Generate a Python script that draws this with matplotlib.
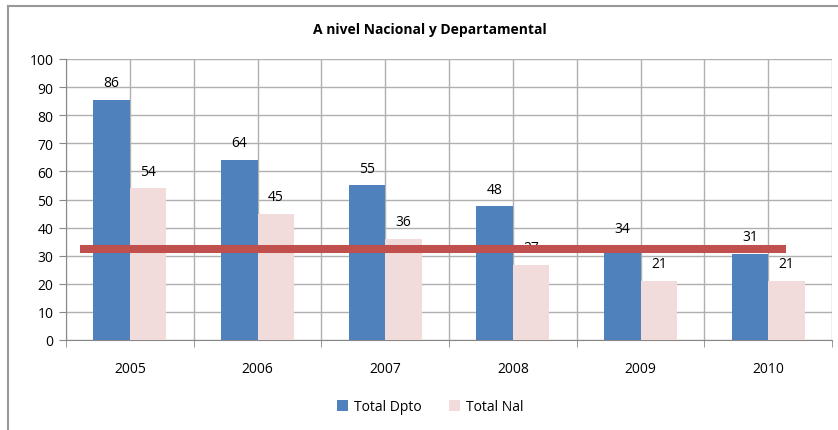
import matplotlib
matplotlib.use("Agg")
import matplotlib.pyplot as plt
import numpy as np
from matplotlib.lines import Line2D

years = ["2005", "2006", "2007", "2008", "2009", "2010"]
total_dpto = [86, 64, 55, 48, 34, 31]
total_nal = [54, 45, 36, 27, 21, 21]
bar_heights_dpto = [85.5, 64, 55, 47.6, 33.5, 30.6]
bar_heights_nal = [54, 45, 36, 26.7, 21, 21]
reference_value = 32.5

plt.rcParams['font.family'] = ['Open Sans', 'DejaVu Sans']

fig = plt.figure(figsize=(8.38, 4.31), dpi=100)
ax = fig.add_axes([66/838, 1-341/431, (832-66)/838, (341-60)/431])

x = np.arange(len(years))
w = 0.287
b1 = ax.bar(x - w/2, bar_heights_dpto, w, color='#4F81BD', label='Total Dpto', zorder=3)
b2 = ax.bar(x + w/2, bar_heights_nal, w, color='#F2DCDB', label='Total Nal', zorder=3)

for xi, h, v in zip(x, bar_heights_dpto, total_dpto):
    ax.annotate(str(v), (xi - w/2, h), xytext=(0, 7), textcoords='offset points',
                ha='center', va='bottom', fontsize=10, color='#000000', zorder=4)
for xi, h, v in zip(x, bar_heights_nal, total_nal):
    ax.annotate(str(v), (xi + w/2, h), xytext=(0, 7), textcoords='offset points',
                ha='center', va='bottom', fontsize=10, color='#000000', zorder=4)

ax.plot([-0.39, 5.14], [reference_value, reference_value], color='#C0504D', lw=5.8,
        solid_capstyle='butt', zorder=5)

ax.set_xlim(-0.5, 5.5)
ax.set_ylim(0, 100)
ax.set_yticks(np.arange(0, 101, 10))
ax.set_xticks(x)
ax.set_xticklabels(years)
ax.set_xticks(np.arange(-0.5, 5.6, 1), minor=True)
ax.tick_params(axis='x', which='major', length=0, pad=15, labelsize=10)
ax.tick_params(axis='x', which='minor', length=5, color='#888888')
ax.tick_params(axis='y', length=5, color='#888888', labelsize=10, pad=4)
ax.grid(True, axis='y', color='#B0B0B0', lw=1, zorder=0)
for xv in np.arange(-0.5, 5.6, 0.5):
    ax.axvline(xv, color='#B0B0B0', lw=1, zorder=0)
for s in ['top', 'right']:
    ax.spines[s].set_visible(False)
ax.spines['left'].set_color('#888888')
ax.spines['bottom'].set_color('#888888')

fig.text(430/838, 1-30/431, 'A nivel Nacional y Departamental', ha='center', va='center',
         fontsize=10, fontweight='bold')

fig.legend(handles=[b1, b2], loc='center', bbox_to_anchor=(430/838, 1-408/431), ncol=2,
           frameon=False, fontsize=10, handlelength=0.8, handleheight=0.8, columnspacing=2.0,
           handletextpad=0.4)

# chart frame: only left and top edges visible
fig.lines.append(Line2D([7.5/838, 7.5/838], [0, 1-6.5/431], transform=fig.transFigure,
                        color='#999999', lw=1.5))
fig.lines.append(Line2D([7.5/838, 1], [1-6.5/431, 1-6.5/431], transform=fig.transFigure,
                        color='#999999', lw=1.5))

fig.savefig('out.png', dpi=100)
